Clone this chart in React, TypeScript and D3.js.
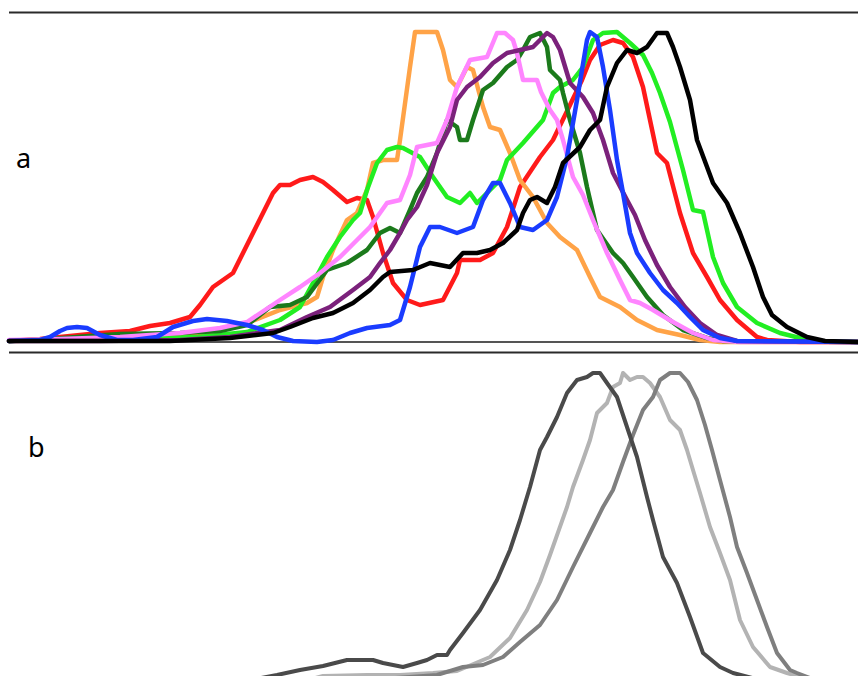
import React from "react";
import * as d3 from "d3";

// Flow-cytometry style histogram overlays: channel (0–850) vs. events (mode = 310)
type Pt = [number, number];

const redSeries: Pt[] = [[1,1],[32,3],[62,6],[92,9],[122,11],[142,16],[162,19],[182,25],[192,37],[205,55],[225,69],[245,109],[265,149],[272,157],[282,157],[292,162],[305,165],[315,160],[325,152],[339,140],[349,144],[359,142],[365,125],[375,89],[385,59],[399,42],[412,37],[435,42],[449,69],[452,82],[472,82],[485,89],[499,115],[512,155],[532,185],[545,202],[562,237],[574,262],[582,282],[592,297],[605,302],[615,299],[625,285],[635,255],[642,222],[649,189],[659,179],[672,129],[685,89],[699,65],[712,42],[729,22],[749,5],[759,2],[792,0],[850,0]];

const orangeSeries: Pt[] = [[1,1],[52,2],[112,4],[172,5],[205,11],[239,19],[272,32],[299,39],[309,45],[315,65],[325,92],[339,122],[349,129],[359,152],[365,179],[375,182],[389,182],[392,202],[402,275],[407,310],[429,310],[435,292],[442,262],[449,255],[459,275],[465,272],[475,235],[482,215],[492,212],[502,189],[512,162],[525,145],[539,119],[552,105],[569,92],[582,65],[592,45],[612,35],[629,22],[649,12],[672,7],[692,2],[712,0],[850,0]];

const greenSeries: Pt[] = [[1,1],[50,3],[100,4],[150,4],[190,5],[239,10],[272,22],[292,35],[305,59],[319,85],[332,105],[345,122],[352,129],[359,152],[369,179],[379,192],[389,195],[395,194],[412,185],[425,165],[439,145],[452,139],[462,149],[469,139],[479,149],[492,162],[499,182],[515,199],[535,222],[545,249],[552,255],[565,262],[575,275],[585,302],[595,309],[609,310],[622,299],[635,287],[644,269],[652,249],[662,220],[675,172],[685,132],[695,130],[705,85],[715,59],[729,35],[749,19],[772,9],[792,4],[812,1],[850,0]];

const darkGreenSeries: Pt[] = [[1,1],[42,3],[82,6],[112,8],[172,9],[212,11],[239,17],[252,27],[262,35],[282,37],[299,45],[319,72],[339,79],[359,92],[372,109],[382,114],[392,109],[402,132],[409,149],[419,165],[429,189],[439,222],[449,215],[452,202],[459,202],[465,222],[475,252],[485,259],[499,275],[509,282],[515,292],[522,305],[532,309],[539,295],[542,272],[552,262],[555,249],[562,222],[572,189],[579,155],[585,129],[589,112],[605,89],[615,79],[625,65],[639,45],[655,27],[675,12],[699,4],[715,1],[850,0]];

const pinkSeries: Pt[] = [[1,2],[52,3],[112,5],[172,9],[212,14],[239,20],[272,42],[292,55],[312,69],[332,85],[349,102],[362,115],[379,139],[392,142],[402,167],[409,195],[419,197],[429,199],[439,222],[449,255],[462,282],[479,285],[489,309],[497,309],[505,302],[509,289],[515,262],[529,262],[533,250],[542,232],[549,222],[555,202],[565,165],[575,147],[585,122],[599,89],[612,62],[622,42],[632,39],[645,32],[665,20],[685,9],[705,2],[732,0],[850,0]];

const purpleSeries: Pt[] = [[1,1],[92,1],[172,2],[222,5],[272,12],[299,25],[322,35],[345,52],[362,65],[372,79],[382,92],[392,109],[399,122],[409,135],[419,157],[429,189],[442,215],[449,242],[459,255],[472,265],[485,279],[499,289],[512,292],[525,295],[532,302],[539,309],[545,305],[552,292],[562,259],[575,245],[585,229],[595,202],[605,169],[619,142],[627,127],[637,102],[649,77],[662,55],[677,35],[692,19],[709,7],[729,1],[850,0]];

const blueSeries: Pt[] = [[1,1],[32,2],[42,5],[52,11],[59,14],[69,15],[79,14],[92,7],[109,2],[125,2],[149,5],[165,15],[185,21],[199,23],[219,21],[239,17],[255,12],[269,5],[285,1],[309,0],[325,2],[342,9],[359,14],[382,17],[392,22],[402,55],[412,95],[422,115],[432,115],[449,109],[465,115],[475,142],[485,159],[492,159],[502,139],[512,115],[525,112],[539,122],[549,145],[559,185],[569,242],[579,302],[582,310],[589,305],[595,275],[602,232],[609,182],[615,149],[622,109],[629,89],[642,69],[655,52],[669,39],[682,25],[695,12],[712,4],[729,1],[850,0]];

const blackSeries: Pt[] = [[1,1],[92,1],[162,1],[222,4],[265,9],[282,15],[305,24],[325,29],[345,39],[362,52],[375,65],[382,70],[405,72],[422,79],[442,75],[455,89],[469,89],[482,92],[495,99],[509,112],[515,129],[522,142],[529,145],[539,139],[547,155],[555,179],[572,195],[582,212],[592,222],[599,255],[609,279],[619,292],[629,289],[639,295],[649,309],[659,309],[665,295],[672,275],[682,242],[689,202],[705,159],[719,139],[732,109],[745,75],[755,45],[764,27],[779,15],[799,5],[817,1],[850,0]];

const darkGraySeries: Pt[] = [[232,0],[269,7],[292,12],[315,16],[339,22],[365,22],[375,19],[395,15],[409,19],[419,22],[429,27],[439,27],[442,32],[455,49],[472,72],[489,102],[502,132],[512,162],[522,195],[532,232],[539,245],[549,265],[559,289],[569,302],[579,305],[585,309],[592,309],[599,299],[609,285],[619,255],[629,225],[639,185],[645,162],[655,125],[669,99],[682,65],[695,29],[712,15],[725,9],[752,2],[782,0]];

const lightGraySeries: Pt[] = [[292,0],[315,6],[359,7],[392,7],[425,9],[449,11],[482,25],[502,44],[519,72],[532,100],[542,127],[559,175],[565,195],[575,222],[582,242],[589,269],[599,279],[605,295],[612,299],[615,309],[622,302],[629,305],[635,305],[642,299],[652,285],[662,262],[672,252],[679,232],[685,212],[692,189],[702,155],[712,129],[722,102],[732,62],[745,35],[762,15],[779,9],[802,2],[822,0]];

const midGraySeries: Pt[] = [[332,0],[429,7],[455,15],[475,17],[495,25],[512,40],[532,57],[549,82],[565,115],[582,149],[595,175],[605,192],[615,220],[625,247],[635,272],[645,285],[652,302],[662,309],[672,309],[680,300],[689,282],[697,257],[704,232],[712,202],[722,165],[729,135],[739,109],[749,82],[759,55],[769,29],[782,12],[789,9],[807,2],[827,0]];

const panelA = [
  { name: "red", color: "#ff1a1a", data: redSeries },
  { name: "orange", color: "#ffa347", data: orangeSeries },
  { name: "green", color: "#22ee22", data: greenSeries },
  { name: "darkgreen", color: "#1b7a1b", data: darkGreenSeries },
  { name: "pink", color: "#ff85ff", data: pinkSeries },
  { name: "purple", color: "#7b217b", data: purpleSeries },
  { name: "blue", color: "#1a3cff", data: blueSeries },
  { name: "black", color: "#000000", data: blackSeries },
];

const panelB = [
  { name: "light", color: "#b3b3b3", data: lightGraySeries },
  { name: "mid", color: "#7f7f7f", data: midGraySeries },
  { name: "dark", color: "#4a4a4a", data: darkGraySeries },
];

const W = 858;
const H = 676;
const PANEL_OFFSET = 340;

export default function App() {
  const x = d3.scaleLinear().domain([0, 850]).range([8, 858]);
  const y = d3.scaleLinear().domain([0, 310]).range([342, 32]);
  const line = d3
    .line<Pt>()
    .x((d) => x(d[0]))
    .y((d) => y(d[1]))
    .curve(d3.curveLinear);

  return (
    <svg
      width={W}
      height={H}
      style={{ position: "absolute", left: 0, top: 0, background: "#fff" }}
    >
      {/* panel a */}
      <line x1={9} x2={858} y1={12.5} y2={12.5} stroke="#2a2a2a" strokeWidth={2} />
      <line x1={9} x2={858} y1={342} y2={342} stroke="#555" strokeWidth={2} />
      <text x={16} y={168} fontFamily="'Noto Sans', 'Open Sans', sans-serif" fontSize={27} fill="#000">
        a
      </text>
      <g>
        {panelA.map((s) => (
          <path
            key={s.name}
            d={line(s.data) || ""}
            fill="none"
            stroke={s.color}
            strokeWidth={4.5}
            strokeLinejoin="round"
            strokeLinecap="round"
          />
        ))}
      </g>

      {/* panel b */}
      <line x1={9} x2={858} y1={352.5} y2={352.5} stroke="#2a2a2a" strokeWidth={2} />
      <text x={28} y={457} fontFamily="'Noto Sans', 'Open Sans', sans-serif" fontSize={27} fill="#000">
        b
      </text>
      <g transform={`translate(0,${PANEL_OFFSET})`}>
        {panelB.map((s) => (
          <path
            key={s.name}
            d={line(s.data) || ""}
            fill="none"
            stroke={s.color}
            strokeWidth={4}
            strokeLinejoin="round"
            strokeLinecap="round"
          />
        ))}
      </g>
    </svg>
  );
}
